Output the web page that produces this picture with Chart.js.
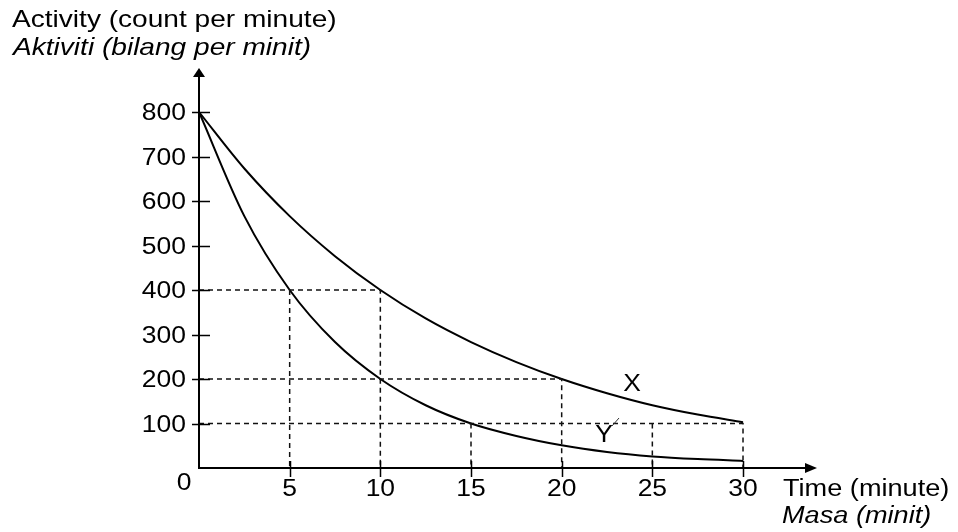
<!DOCTYPE html>
<html lang="en">
<head>
    <meta charset="UTF-8">
    <title>Activity vs Time</title>
    <script src="https://cdn.jsdelivr.net/npm/chart.js"></script>
    <style>
        html, body { margin: 0; padding: 0; background: #fff; }
        #wrap { width: 958px; height: 532px; }
    </style>
</head>
<body>
    <div id="wrap"><canvas id="decay"></canvas></div>

    <script>
        // Data
        const timeMin = [0, 2.5, 5, 7.5, 10, 12.5, 15, 17.5, 20, 22.5, 25, 27.5, 30];
        const activityX = [800, 673, 566, 476, 400, 336, 283, 238, 200, 168, 141, 120, 103];
        const activityY = [800, 566, 400, 283, 200, 141, 100, 72, 51, 36, 26, 20, 16];
        const xTicks = [5, 10, 15, 20, 25, 30];
        const yTicks = [100, 200, 300, 400, 500, 600, 700, 800];
        // dashed guide lines: [x, y] corners (horizontal from axis, then down to axis)
        const guideCorners = [[10, 400], [20, 200], [30, 100]];
        const guideDrops = [[5, 400], [15, 100], [25, 100]];

        const ink = '#000';

        function pts(xs, ys) {
            return xs.map((x, i) => ({ x: x, y: ys[i] }));
        }

        // text in the picture is stretched sideways, so scale it a bit
        function txt(ctx, s, x, y, align, font, sx) {
            ctx.save();
            ctx.translate(x, y);
            ctx.scale(sx, 1);
            ctx.font = font;
            ctx.fillStyle = ink;
            ctx.textAlign = align;
            ctx.textBaseline = 'alphabetic';
            ctx.fillText(s, 0, 0);
            ctx.restore();
        }

        const dashStyle = { borderColor: '#111', borderWidth: 1.5, borderDash: [5, 4], pointRadius: 0, fill: false, tension: 0 };
        const guideSets = [];
        guideCorners.forEach(c => {
            guideSets.push(Object.assign({ data: [{ x: 0, y: c[1] }, { x: c[0], y: c[1] }, { x: c[0], y: 0 }] }, dashStyle));
        });
        guideDrops.forEach(c => {
            guideSets.push(Object.assign({ data: [{ x: c[0], y: c[1] }, { x: c[0], y: 0 }] }, dashStyle));
        });

        // axes, arrows, ticks and all text
        const axesPlugin = {
            id: 'axesPlugin',
            afterDatasetsDraw(chart) {
                const ctx = chart.ctx;
                const xs = chart.scales.x, ys = chart.scales.y;
                const x0 = xs.getPixelForValue(0), y0 = ys.getPixelForValue(0);
                const top = chart.chartArea.top, right = chart.chartArea.right;
                const ft = '23px "Liberation Sans", Arial, sans-serif';
                const fh = '24px "Liberation Sans", Arial, sans-serif';
                const fhi = 'italic 24px "Liberation Sans", Arial, sans-serif';
                const fb = '23px "Liberation Sans", Arial, sans-serif';
                const fbi = 'italic 23px "Liberation Sans", Arial, sans-serif';

                ctx.save();
                ctx.strokeStyle = ink;
                ctx.fillStyle = ink;
                ctx.lineWidth = 2;
                ctx.beginPath();
                ctx.moveTo(x0, y0); ctx.lineTo(x0, top + 6);
                ctx.moveTo(x0 - 1, y0); ctx.lineTo(right - 8, y0);
                ctx.stroke();
                // arrow heads
                ctx.beginPath();
                ctx.moveTo(x0, top); ctx.lineTo(x0 - 6, top + 9); ctx.lineTo(x0 + 6, top + 9); ctx.closePath();
                ctx.fill();
                ctx.beginPath();
                ctx.moveTo(right, y0); ctx.lineTo(right - 12, y0 - 5); ctx.lineTo(right - 12, y0 + 5); ctx.closePath();
                ctx.fill();

                ctx.lineWidth = 1.5;
                ctx.beginPath();
                yTicks.forEach(v => {
                    const y = Math.round(ys.getPixelForValue(v)) + 0.5;
                    ctx.moveTo(x0 - 7, y); ctx.lineTo(x0 + 11, y);
                });
                xTicks.forEach(v => {
                    const x = Math.round(xs.getPixelForValue(v)) + 0.5;
                    ctx.moveTo(x, y0 - 7); ctx.lineTo(x, y0 + 9);
                });
                ctx.stroke();
                ctx.restore();

                yTicks.forEach(v => txt(ctx, String(v), x0 - 13, ys.getPixelForValue(v) + 8, 'right', ft, 1.15));
                xTicks.forEach(v => txt(ctx, String(v), xs.getPixelForValue(v), y0 + 28, 'center', ft, 1.15));
                txt(ctx, '0', x0 - 15, y0 + 22, 'center', ft, 1.15);

                txt(ctx, 'Activity (count per minute)', 12, 27, 'left', fh, 1.17);
                txt(ctx, 'Aktiviti (bilang per minit)', 13, 55, 'left', fhi, 1.17);
                txt(ctx, 'Time (minute)', 783, 496, 'left', fb, 1.18);
                txt(ctx, 'Masa (minit)', 782, 523, 'left', fbi, 1.18);

                txt(ctx, 'X', 632, 391, 'center', ft, 1.15);
                txt(ctx, 'Y', 604, 442, 'center', ft, 1.15);
                ctx.save();
                ctx.strokeStyle = '#333';
                ctx.lineWidth = 1;
                ctx.beginPath();
                ctx.moveTo(612, 426); ctx.lineTo(619, 418);
                ctx.stroke();
                ctx.restore();
            }
        };

        new Chart(document.getElementById('decay').getContext('2d'), {
            type: 'line',
            data: {
                datasets: guideSets.concat([
                    {
                        label: 'X',
                        data: pts(timeMin, activityX),
                        borderColor: ink,
                        borderWidth: 2,
                        pointRadius: 0,
                        cubicInterpolationMode: 'monotone',
                        fill: false
                    },
                    {
                        label: 'Y',
                        data: pts(timeMin, activityY),
                        borderColor: ink,
                        borderWidth: 2,
                        pointRadius: 0,
                        cubicInterpolationMode: 'monotone',
                        fill: false
                    }
                ])
            },
            options: {
                responsive: true,
                maintainAspectRatio: false,
                animation: false,
                layout: {
                    padding: { left: 199, right: 141, top: 68, bottom: 64 }
                },
                plugins: {
                    legend: { display: false },
                    tooltip: { enabled: false }
                },
                scales: {
                    x: { type: 'linear', display: false, min: 0, max: 34.08 },
                    y: { display: false, min: 0, max: 898.9 }
                }
            },
            plugins: [axesPlugin]
        });
    </script>
</body>
</html>
